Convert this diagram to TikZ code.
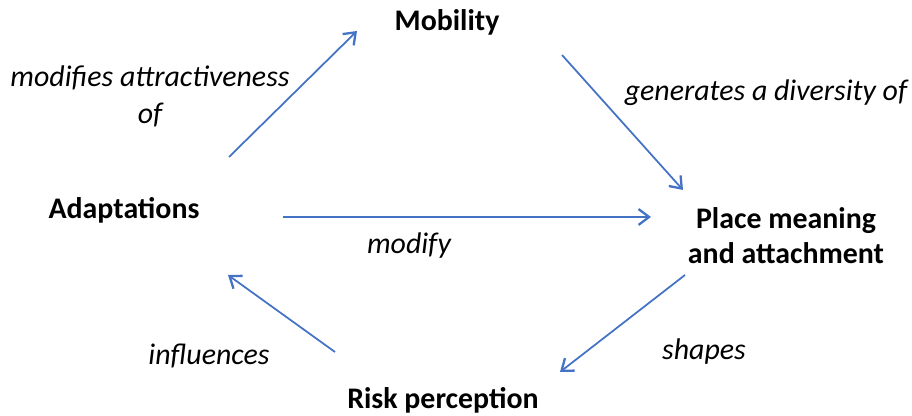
\documentclass[tikz,border=0pt]{standalone}
\usepackage{fontspec}
\setmainfont{Carlito}
\usetikzlibrary{positioning,arrows.meta,calc}

\definecolor{linkblue}{RGB}{68,114,196}

\tikzset{
    concept/.style={font=\fontsize{17}{20}\selectfont\bfseries, align=center},
    relation/.style={font=\fontsize{17}{21}\selectfont\itshape, align=center},
    link/.style={draw=linkblue, line width=1pt, -{Straight Barb[length=6pt,width=9pt,line width=1.3pt]}}
}

\begin{document}
\begin{tikzpicture}

    \useasboundingbox (0,0) rectangle (18.24,8.32);

    \node[concept] (adapt) at (2.48,4.12) {Adaptations};
    \node[concept] (mob) at (8.94,7.88) {Mobility};
    \node[concept] (place) at (15.72,3.60) {Place meaning\\and attachment};
    \node[concept] (risk) at (8.86,0.32) {Risk perception};

    \node[relation] (modattr) at (3.00,6.40) {modifies attractiveness\\of};
    \node[relation] (gendiv) at (15.32,6.46) {generates a diversity of};
    \node[relation] (modify) at (8.18,3.40) {modify};
    \node[relation] (shapes) at (14.08,1.28) {shapes};
    \node[relation] (infl) at (4.18,1.20) {influences};

    \draw[link] ([xshift=2.10cm,yshift=1.06cm]adapt.center) -- ([xshift=-1.80cm,yshift=-0.18cm]mob.center);
    \draw[link] ([xshift=2.30cm,yshift=-0.66cm]mob.center) -- ([xshift=-2.06cm,yshift=0.92cm]place.center);
    \draw[link] ([xshift=3.18cm,yshift=-0.14cm]adapt.center) -- ([xshift=-2.70cm,yshift=0.38cm]place.center);
    \draw[link] ([xshift=-2.02cm,yshift=-0.78cm]place.center) -- ([xshift=2.34cm,yshift=0.56cm]risk.center);
    \draw[link] ([xshift=-2.16cm,yshift=0.96cm]risk.center) -- ([xshift=2.08cm,yshift=-1.30cm]adapt.center);

\end{tikzpicture}
\end{document}
